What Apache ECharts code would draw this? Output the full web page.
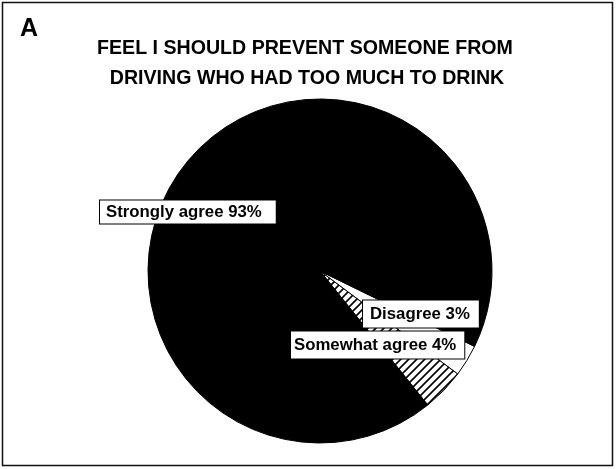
<!DOCTYPE html>
<html>
<head>
<meta charset="utf-8">
<script src="https://cdn.jsdelivr.net/npm/echarts@6/dist/echarts.min.js"></script>
<style>
html,body{margin:0;padding:0;background:#fff;}
#chart{width:616px;height:469px;}
</style>
</head>
<body>
<div id="chart"></div>
<script>
// Data (ordered clockwise from the start of the small wedge)
var categories = ['Disagree', 'Somewhat agree', 'Strongly agree'];
var values = [3, 4, 93];
var percentLabels = ['3%', '4%', '93%'];
var titleLines = ['FEEL I SHOULD PREVENT SOMEONE FROM', 'DRIVING WHO HAD TOO MUCH TO DRINK'];
var panelLetter = 'A';

function hatch() {
  var s = 8;
  var c = document.createElement('canvas');
  c.width = s; c.height = s;
  var g = c.getContext('2d');
  g.fillStyle = '#fff';
  g.fillRect(0, 0, s, s);
  g.strokeStyle = '#000';
  g.lineWidth = 1.6;
  g.beginPath();
  g.moveTo(-1, s + 1); g.lineTo(s + 1, -1);
  g.moveTo(-s / 2 - 1, s / 2 + 1); g.lineTo(s / 2 + 1, -s / 2 - 1);
  g.moveTo(s / 2 - 1, s * 1.5 + 1); g.lineTo(s * 1.5 + 1, s / 2 - 1);
  g.stroke();
  return c;
}

var fills = [
  '#ffffff',
  { image: hatch(), repeat: 'repeat' },
  '#000000'
];

var labelPos = [
  { x: 363, y: 314, pad: [5, 9, 5, 7] },
  { x: 291, y: 345, pad: [5, 8, 5, 3] },
  { x: 100, y: 212, pad: [3, 14, 3, 6] }
];

var FONT = '"Liberation Sans", Arial, sans-serif';
var chart = echarts.init(document.getElementById('chart'), null, { renderer: 'canvas' });
chart.setOption({
  backgroundColor: '#fff',
  animation: false,
  graphic: [
    { type: 'rect', shape: { x: 2.5, y: 2.5, width: 610, height: 463 },
      style: { fill: 'none', stroke: '#111', lineWidth: 1.5 } },
    { type: 'text', left: 20, top: 17,
      style: { text: panelLetter, font: 'bold 25px ' + FONT, fill: '#000' } },
    { type: 'text', x: 305, y: 49,
      style: { text: titleLines[0], font: 'bold 19.6px ' + FONT, fill: '#000', align: 'center', verticalAlign: 'middle' } },
    { type: 'text', x: 307, y: 79,
      style: { text: titleLines[1], font: 'bold 19.6px ' + FONT, fill: '#000', align: 'center', verticalAlign: 'middle' } }
  ],
  series: [{
    type: 'pie',
    center: [320, 271],
    radius: [0, 172],
    startAngle: -26,
    clockwise: true,
    avoidLabelOverlap: false,
    itemStyle: { borderColor: '#000', borderWidth: 1 },
    label: {
      show: true,
      position: 'outside',
      formatter: function (p) { return p.name + ' ' + percentLabels[p.dataIndex]; },
      fontFamily: FONT,
      fontWeight: 'bold',
      fontSize: 16.8,
      color: '#000',
      backgroundColor: '#fff',
      borderColor: '#000',
      borderWidth: 1
    },
    labelLine: { show: false },
    labelLayout: function (params) {
      var p = labelPos[params.dataIndex];
      return { x: p.x, y: p.y, align: 'left', verticalAlign: 'middle' };
    },
    data: categories.map(function (n, i) {
      return { name: n, value: values[i], itemStyle: { color: fills[i] },
               label: { padding: labelPos[i].pad } };
    })
  }]
});
</script>
</body>
</html>
